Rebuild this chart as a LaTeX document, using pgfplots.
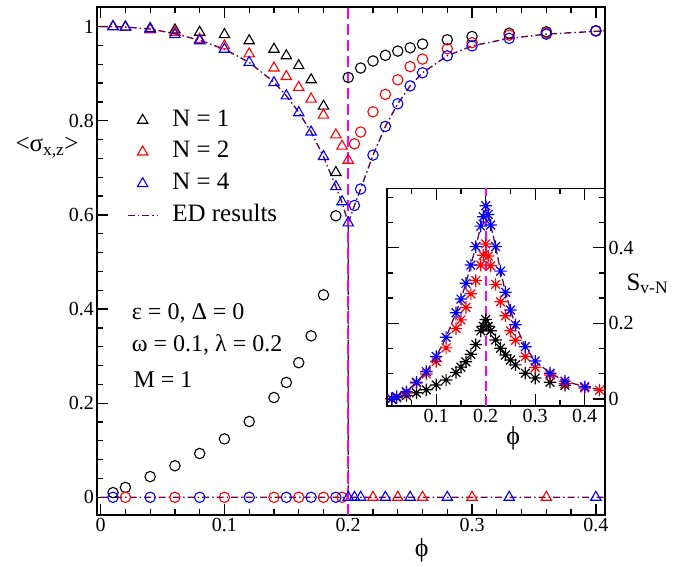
\documentclass[border=0pt]{standalone}
\usepackage{fontspec}
\setmainfont{Liberation Serif}
\usepackage{pgfplots}
\pgfplotsset{compat=1.18}
\definecolor{edc}{RGB}{103,7,72}
\definecolor{mag}{RGB}{255,0,255}
\pgfdeclareplotmark{star8}{%
  \pgfpathmoveto{\pgfqpoint{-\pgfplotmarksize}{0pt}}\pgfpathlineto{\pgfqpoint{\pgfplotmarksize}{0pt}}%
  \pgfpathmoveto{\pgfqpoint{0pt}{-\pgfplotmarksize}}\pgfpathlineto{\pgfqpoint{0pt}{\pgfplotmarksize}}%
  \pgfpathmoveto{\pgfqpoint{-.7071\pgfplotmarksize}{-.7071\pgfplotmarksize}}\pgfpathlineto{\pgfqpoint{.7071\pgfplotmarksize}{.7071\pgfplotmarksize}}%
  \pgfpathmoveto{\pgfqpoint{-.7071\pgfplotmarksize}{.7071\pgfplotmarksize}}\pgfpathlineto{\pgfqpoint{.7071\pgfplotmarksize}{-.7071\pgfplotmarksize}}%
  \pgfusepathqstroke}
\pgfplotsset{
  tri/.style={only marks, mark=triangle, mark size=6bp, mark options={line width=1.1bp}},
  circ/.style={only marks, mark=o, mark size=5.2bp, mark options={line width=1.1bp}},
  st/.style={only marks, mark=star8, mark size=6.2bp, mark options={line width=1.2bp}},
  ed/.style={color=edc, line width=1.4bp, dash pattern=on 7bp off 3bp on 1.5bp off 3bp},
  magline/.style={draw=mag, color=mag, mark=none, line width=1.8bp, dash pattern=on 10bp off 5bp},
  tri legend/.style={legend image code/.code={\draw[##1] plot coordinates {(15bp,0bp)};}},
  ed legend/.style={legend image code/.code={\draw[##1] (0bp,0bp) -- (30bp,0bp);}},
}
\begin{document}
\begin{tikzpicture}[x=1bp,y=1bp]
\useasboundingbox (0,0) rectangle (690,567);
\begin{axis}[
  at={(97.3bp,52bp)}, anchor=south west,
  scale only axis, width=507.7bp, height=508bp,
  xmin=-0.0027, xmax=0.4074, ymin=-0.0376, ymax=1.0417,
  xtick={0,0.1,0.2,0.3,0.4}, minor x tick num=4,
  ytick={0,0.2,0.4,0.6,0.8,1}, minor y tick num=4,
  xtick pos=both, ytick pos=left, tick align=inside,
  major tick length=11bp, minor tick length=6bp,
  axis line style={line width=1.8bp},
  every tick/.style={line width=1.3bp, black},
  /pgf/number format/assume math mode=true,
  /pgf/number format/fixed,
  tick label style={font=\fontsize{20bp}{24bp}\selectfont},
  xlabel={ϕ},
  xlabel style={font=\fontsize{26bp}{30bp}\selectfont, at={(axis description cs:0.639,-0.069)}, anchor=center},
  ylabel={<σ\textsubscript{x,z}>},
  ylabel style={font=\fontsize{25bp}{30bp}\selectfont, rotate=-90, at={(axis description cs:-0.099,0.7146)}, anchor=base},
  legend style={at={(axis description cs:0.058,0.801)}, anchor=north west, draw=none, fill=none,
    font=\fontsize{25bp}{30bp}\selectfont, inner sep=0pt, row sep=7.7bp,
    nodes={inner sep=0pt, text height=18bp, text depth=6bp},
    /tikz/every odd column/.append style={column sep=14bp}},
  legend cell align=left,
]
\addlegendimage{tri, black, tri legend}\addlegendentry{N = 1}
\addlegendimage{tri, red, tri legend}\addlegendentry{N = 2}
\addlegendimage{tri, blue, tri legend}\addlegendentry{N = 4}
\addlegendimage{ed, ed legend}\addlegendentry{ED results}
% ED results
\addplot[ed, forget plot] coordinates {
(0,1.0) (0.01,1.0) (0.02,0.999) (0.04,0.995) (0.06,0.985) (0.08,0.971) (0.10,0.952)
(0.12,0.924) (0.14,0.882) (0.15,0.853) (0.16,0.818) (0.17,0.776) (0.18,0.724)
(0.19,0.660) (0.195,0.626) (0.20,0.583) (0.20,0) (0.30,0) (0.40,0) (0.407,0)};
\addplot[ed, forget plot] coordinates {
(0,0) (0.10,0) (0.20,0) (0.20,0.583) (0.205,0.620) (0.21,0.655) (0.22,0.727) (0.23,0.788)
(0.24,0.836) (0.25,0.874) (0.26,0.902) (0.28,0.938) (0.30,0.959) (0.33,0.975)
(0.36,0.984) (0.40,0.990) (0.407,0.991)};
% magenta line
\addplot[magline, line width=1.5bp, dash pattern=on 11bp off 5bp, forget plot] coordinates {(0.2,-0.0376) (0.2,1.0417)};
% N = 1
\addplot[tri, black, forget plot] coordinates {
(0.01,1.000) (0.02,0.999) (0.04,0.996) (0.06,0.993) (0.08,0.988) (0.10,0.983)
(0.12,0.970) (0.14,0.952) (0.15,0.938) (0.16,0.917) (0.17,0.887) (0.18,0.831) (0.19,0.690)};
\addplot[circ, black, forget plot] coordinates {
(0.01,0.010) (0.02,0.021) (0.04,0.044) (0.06,0.067) (0.08,0.093) (0.10,0.124)
(0.12,0.161) (0.14,0.212) (0.15,0.244) (0.16,0.286) (0.17,0.343) (0.18,0.430) (0.19,0.598)
(0.20,0.892) (0.21,0.912) (0.22,0.927) (0.23,0.939) (0.24,0.948) (0.25,0.955)
(0.26,0.963) (0.28,0.972) (0.30,0.979) (0.33,0.986) (0.36,0.989) (0.40,0.991)};
% N = 2
\addplot[tri, red, forget plot] coordinates {
(0.01,1.000) (0.02,0.999) (0.04,0.993) (0.06,0.988) (0.08,0.973) (0.10,0.959)
(0.12,0.942) (0.14,0.912) (0.15,0.894) (0.16,0.871) (0.17,0.846) (0.18,0.812)
(0.19,0.770) (0.195,0.746) (0.20,0.716)
(0.22,0) (0.24,0) (0.26,0) (0.30,0) (0.36,0)};
\addplot[circ, red, forget plot] coordinates {
(0.02,0) (0.06,0) (0.10,0) (0.14,0) (0.16,0) (0.18,0) (0.195,0)
(0.205,0.751) (0.21,0.776) (0.22,0.819) (0.23,0.856) (0.24,0.887) (0.25,0.915)
(0.26,0.931) (0.28,0.953) (0.30,0.966) (0.33,0.982) (0.36,0.986) (0.40,0.991)};
% N = 4
\addplot[tri, blue, forget plot] coordinates {
(0.01,1.000) (0.02,0.999) (0.04,0.995) (0.06,0.983) (0.08,0.970) (0.10,0.952)
(0.12,0.924) (0.14,0.881) (0.15,0.853) (0.16,0.817) (0.17,0.776) (0.18,0.724)
(0.19,0.660) (0.195,0.628) (0.20,0.583)
(0.20,0) (0.205,0) (0.21,0) (0.23,0) (0.25,0) (0.28,0) (0.33,0) (0.40,0)};
\addplot[circ, blue, forget plot] coordinates {
(0.01,0) (0.04,0) (0.08,0) (0.12,0) (0.15,0) (0.17,0) (0.19,0)
(0.205,0.620) (0.21,0.655) (0.22,0.727) (0.23,0.788) (0.24,0.836) (0.25,0.874)
(0.26,0.902) (0.28,0.938) (0.30,0.959) (0.33,0.975) (0.36,0.984) (0.40,0.991)};
\node[anchor=base west, inner sep=0pt, font=\fontsize{24bp}{28bp}\selectfont] at (axis cs:0.0251,0.3768) {ε = 0, Δ = 0};
\node[anchor=base west, inner sep=0pt, font=\fontsize{24bp}{28bp}\selectfont] at (axis cs:0.0251,0.3088) {ω = 0.1, λ = 0.2};
\node[anchor=base west, inner sep=0pt, font=\fontsize{24bp}{28bp}\selectfont] at (axis cs:0.0264,0.2329) {M = 1};
\end{axis}
\begin{axis}[
  at={(386.7bp,161bp)}, anchor=south west,
  scale only axis, width=218.3bp, height=217.5bp,
  axis background/.style={fill=white},
  xmin=0, xmax=0.441, ymin=-0.0188, ymax=0.5566,
  xtick={0.1,0.2,0.3,0.4}, minor xtick={0.05,0.15,0.25,0.35},
  ytick={0,0.2,0.4}, minor ytick={0.0667,0.1333,0.2667,0.3333,0.4667,0.5333},
  xtick pos=both, ytick pos=both, yticklabel pos=right, tick align=inside,
  major tick length=12bp, minor tick length=6bp,
  axis line style={line width=1.8bp},
  every tick/.style={line width=1.3bp, black},
  /pgf/number format/assume math mode=true,
  /pgf/number format/fixed,
  tick label style={font=\fontsize{20bp}{24bp}\selectfont},
  xlabel={ϕ},
  xlabel style={font=\fontsize{26bp}{30bp}\selectfont, at={(axis description cs:0.58,-0.147)}, anchor=center},
  ylabel={S\textsubscript{v-N}},
  ylabel style={font=\fontsize{25bp}{30bp}\selectfont, rotate=-90, at={(axis description cs:1.0825,0.533)}, anchor=base west},
]
\addplot[st, black] coordinates {
(0.01,0.0) (0.02,0.003) (0.04,0.009) (0.06,0.016) (0.08,0.024) (0.10,0.037) (0.12,0.050)
(0.14,0.070) (0.15,0.084) (0.16,0.098) (0.17,0.118) (0.18,0.144) (0.19,0.180) (0.195,0.192)
(0.20,0.210) (0.205,0.192) (0.21,0.180) (0.22,0.156) (0.23,0.134) (0.24,0.116) (0.25,0.103)
(0.26,0.090) (0.28,0.068) (0.30,0.055) (0.33,0.044) (0.36,0.036)};
\addplot[st, red] coordinates {
(0.01,0.0) (0.02,0.005) (0.04,0.016) (0.06,0.042) (0.08,0.066) (0.10,0.099) (0.12,0.135)
(0.14,0.186) (0.15,0.209) (0.16,0.242) (0.17,0.278) (0.18,0.313) (0.19,0.354) (0.195,0.380)
(0.20,0.410) (0.205,0.378) (0.21,0.352) (0.22,0.303) (0.23,0.257) (0.24,0.220) (0.25,0.180)
(0.26,0.155) (0.28,0.112) (0.30,0.083) (0.33,0.063) (0.36,0.041) (0.40,0.029) (0.43,0.023)};
\addplot[color=edc, line width=1.3bp, dash pattern=on 8bp off 3bp] coordinates {
(0.01,0.0) (0.02,0.006) (0.04,0.019) (0.06,0.044) (0.08,0.072) (0.10,0.112) (0.12,0.163)
(0.14,0.228) (0.15,0.264) (0.16,0.306) (0.17,0.354) (0.18,0.403) (0.19,0.457) (0.195,0.482)
(0.20,0.511) (0.205,0.488) (0.21,0.460) (0.22,0.403) (0.23,0.338) (0.24,0.282) (0.25,0.235)
(0.26,0.196) (0.28,0.138) (0.30,0.100) (0.33,0.068) (0.36,0.047) (0.40,0.032) (0.43,0.025)};
\addplot[st, blue] coordinates {
(0.01,0.0) (0.02,0.006) (0.04,0.019) (0.06,0.044) (0.08,0.072) (0.10,0.112) (0.12,0.163)
(0.14,0.228) (0.15,0.264) (0.16,0.306) (0.17,0.354) (0.18,0.403) (0.19,0.457) (0.195,0.482)
(0.20,0.511) (0.205,0.488) (0.21,0.460) (0.22,0.403) (0.23,0.338) (0.24,0.282) (0.25,0.235)
(0.26,0.196) (0.28,0.138) (0.30,0.100) (0.33,0.068) (0.36,0.047) (0.40,0.032)};
\addplot[magline] coordinates {(0.2,-0.0188) (0.2,0.5566)};
\end{axis}
\end{tikzpicture}
\end{document}
